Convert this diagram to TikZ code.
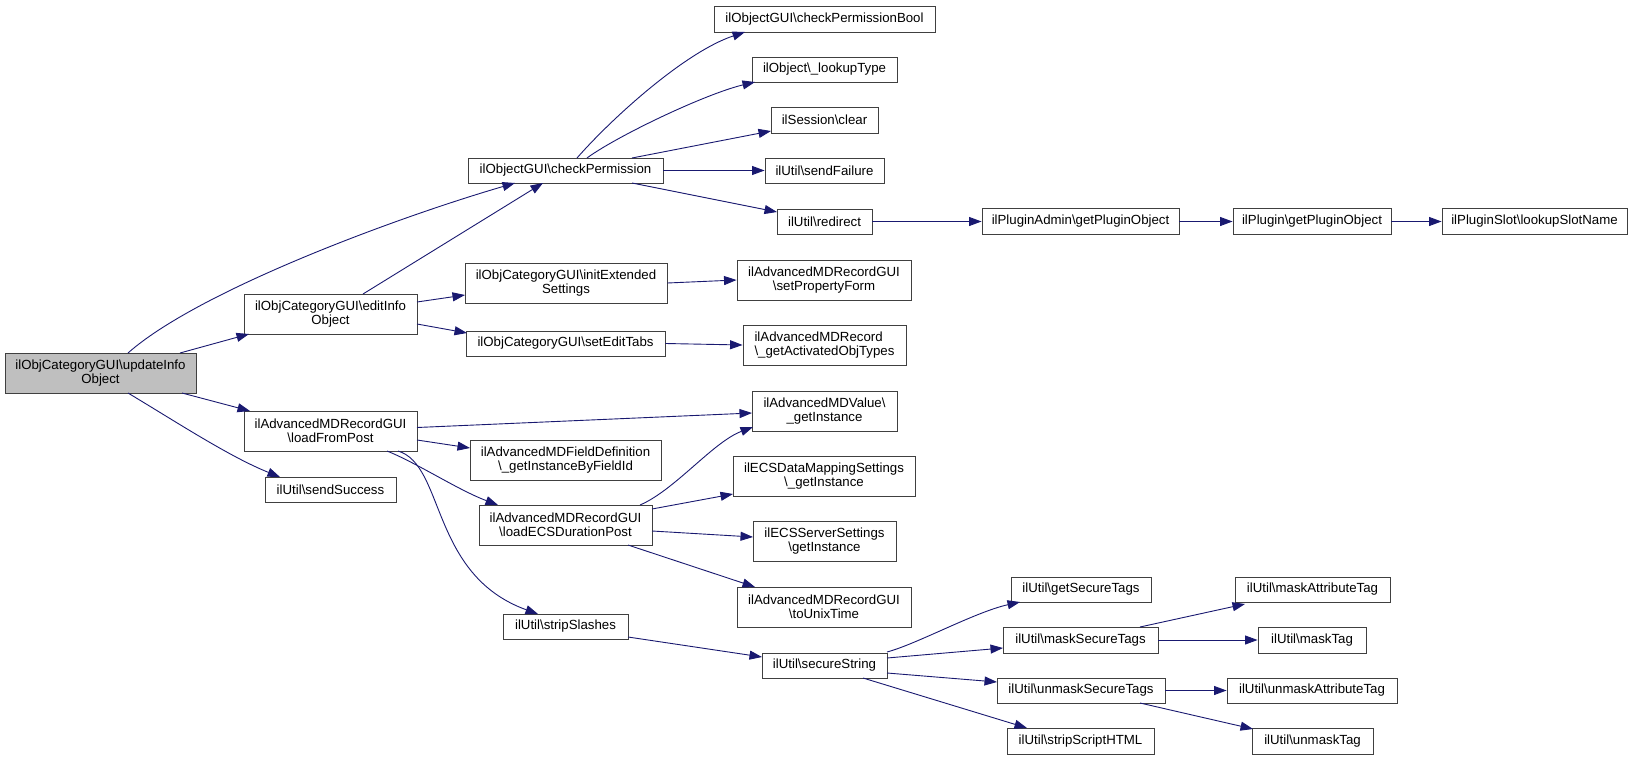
\documentclass[tikz,border=0pt]{standalone}
\usepackage{fontspec}
\setmainfont{Liberation Sans}
\usetikzlibrary{arrows.meta,calc}
\definecolor{edgeblue}{HTML}{191970}
\definecolor{rootfill}{HTML}{BFBFBF}
\definecolor{boxline}{HTML}{404040}
\newcommand{\bs}{\textbackslash}
\begin{document}
\begin{tikzpicture}[x=1pt,y=-1pt,
  box/.style={draw=boxline, line width=0.9pt, fill=white, rectangle, inner sep=0pt,
    align=center, font=\fontsize{13.25}{14.2}\selectfont},
  rootbox/.style={box, fill=rootfill},
  e/.style={draw=edgeblue, line width=0.9pt, -{Triangle[length=12.5pt,width=9pt]}},
]
\useasboundingbox (0,0) rectangle (1637,760);

% column 0
\node[rootbox, minimum width=191pt, minimum height=40pt] (root) at (100.5,373) {ilObjCategoryGUI\bs updateInfo\\Object};
% column 1
\node[box, minimum width=173pt, minimum height=40pt] (edit) at (330.5,314) {ilObjCategoryGUI\bs editInfo\\Object};
\node[box, minimum width=173pt, minimum height=40pt] (lfp) at (330.5,431) {ilAdvancedMDRecordGUI\\\bs loadFromPost};
\node[box, minimum width=131pt, minimum height=25pt] (ss) at (330.5,489.5) {ilUtil\bs sendSuccess};
% column 2
\node[box, minimum width=195pt, minimum height=25pt] (cp) at (565.5,170.5) {ilObjectGUI\bs checkPermission};
\node[box, minimum width=202pt, minimum height=40pt] (ies) at (566,283) {ilObjCategoryGUI\bs initExtended\\Settings};
\node[box, minimum width=199pt, minimum height=25pt] (set) at (565.5,343.5) {ilObjCategoryGUI\bs setEditTabs};
\node[box, minimum width=191pt, minimum height=40pt] (fd) at (565.5,460) {ilAdvancedMDFieldDefinition\\\bs\_getInstanceByFieldId};
\node[box, minimum width=173pt, minimum height=40pt] (ecs) at (565.5,525) {ilAdvancedMDRecordGUI\\\bs loadECSDurationPost};
\node[box, minimum width=125pt, minimum height=25pt] (strip) at (565.5,626.5) {ilUtil\bs stripSlashes};
% column 3
\node[box, minimum width=221pt, minimum height=26pt] (cpb) at (824.5,19) {ilObjectGUI\bs checkPermissionBool};
\node[box, minimum width=145pt, minimum height=25pt] (lt) at (824.5,69.5) {ilObject\bs\_lookupType};
\node[box, minimum width=107pt, minimum height=26pt] (clr) at (824.5,120) {ilSession\bs clear};
\node[box, minimum width=119pt, minimum height=25pt] (sf) at (824.5,170.5) {ilUtil\bs sendFailure};
\node[box, minimum width=95pt, minimum height=25pt] (red) at (824.5,221.5) {ilUtil\bs redirect};
\node[box, minimum width=174pt, minimum height=40pt] (spf) at (824,280) {ilAdvancedMDRecordGUI\\\bs setPropertyForm};
\node[box, align=left, minimum width=163pt, minimum height=40pt] (gat) at (824.5,345) {ilAdvancedMDRecord\\\bs\_getActivatedObjTypes};
\node[box, minimum width=145pt, minimum height=40pt] (mdv) at (824.5,411) {ilAdvancedMDValue\bs\\\_getInstance};
\node[box, minimum width=182pt, minimum height=40pt] (ecsd) at (824,476) {ilECSDataMappingSettings\\\bs\_getInstance};
\node[box, minimum width=143pt, minimum height=40pt] (ecss) at (824.5,541) {ilECSServerSettings\\\bs getInstance};
\node[box, minimum width=174pt, minimum height=40pt] (unix) at (824,607) {ilAdvancedMDRecordGUI\\\bs toUnixTime};
\node[box, minimum width=125pt, minimum height=25pt] (sec) at (824.5,665.5) {ilUtil\bs secureString};
% column 4
\node[box, minimum width=197pt, minimum height=26pt] (pa) at (1080.5,221.5) {ilPluginAdmin\bs getPluginObject};
\node[box, minimum width=140pt, minimum height=25pt] (gst) at (1081,589.5) {ilUtil\bs getSecureTags};
\node[box, minimum width=155pt, minimum height=26pt] (mst) at (1080.5,640) {ilUtil\bs maskSecureTags};
\node[box, minimum width=168pt, minimum height=25pt] (ust) at (1081,690.5) {ilUtil\bs unmaskSecureTags};
\node[box, minimum width=147pt, minimum height=26pt] (ssh) at (1080.5,741) {ilUtil\bs stripScriptHTML};
% column 5
\node[box, minimum width=158pt, minimum height=26pt] (pl) at (1312,221.5) {ilPlugin\bs getPluginObject};
\node[box, minimum width=155pt, minimum height=25pt] (mat) at (1312.5,589.5) {ilUtil\bs maskAttributeTag};
\node[box, minimum width=108pt, minimum height=26pt] (mt) at (1312,640) {ilUtil\bs maskTag};
\node[box, minimum width=170pt, minimum height=25pt] (uat) at (1312,690.5) {ilUtil\bs unmaskAttributeTag};
\node[box, minimum width=121pt, minimum height=26pt] (ut) at (1312.5,741) {ilUtil\bs unmaskTag};
% column 6
\node[box, minimum width=185pt, minimum height=26pt] (pls) at (1534.5,221.5) {ilPluginSlot\bs lookupSlotName};

% edges from root
\draw[e] ($(root)+(27.5,-20)$) .. controls +(70,-62) and +(-120,35) .. ($(cp)+(-50.5,12.5)$);
\draw[e] ($(root)+(79.5,-20)$) -- ($(edit)+(-81.5,20)$);
\draw[e] ($(root)+(81.5,20)$) -- ($(lfp)+(-80.5,-20)$);
\draw[e] ($(root)+(27.5,20)$) .. controls +(50,30) and +(-50,-20) .. ($(ss)+(-50.5,-12.5)$);
% editInfo
\draw[e] ($(edit)+(32.5,-20)$) -- ($(cp)+(-22.5,12.5)$);
\draw[e] ($(edit)+(86.5,-12)$) -- ($(ies)+(-101,12)$);
\draw[e] ($(edit)+(86.5,10)$) -- ($(set)+(-98.5,-10.5)$);
% loadFromPost
\draw[e] ($(lfp)+(86.5,-3.5)$) -- ($(mdv)+(-72.5,2)$);
\draw[e] ($(lfp)+(86.5,9)$) -- ($(fd)+(-95.5,-12)$);
\draw[e] ($(lfp)+(56.5,20)$) .. controls +(30,12) and +(-40,-15) .. ($(ecs)+(-67.5,-20)$);
\draw[e] ($(lfp)+(67.5,20)$) .. controls +(47,14) and +(-108,-39) .. ($(strip)+(-27.5,-12.5)$);
% checkPermission
\draw[e] ($(cp)+(11.5,-12.5)$) .. controls +(35,-40) and +(-60,20) .. ($(cpb)+(-79.5,13)$);
\draw[e] ($(cp)+(21.5,-12.5)$) .. controls +(30,-22) and +(-50,12) .. ($(lt)+(-69.5,12.5)$);
\draw[e] ($(cp)+(66.5,-12.5)$) -- ($(clr)+(-53.5,11)$);
\draw[e] (cp.east) -- (sf.west);
\draw[e] ($(cp)+(66.5,12.5)$) -- ($(red)+(-47.5,-9.5)$);
\draw[e] (red.east) -- (pa.west);
\draw[e] (pa.east) -- (pl.west);
\draw[e] (pl.east) -- (pls.west);
% initExtended / setEditTabs
\draw[e] (ies.east) -- (spf.west);
\draw[e] (set.east) -- (gat.west);
% loadECSDurationPost
\draw[e] ($(ecs)+(74.5,-20)$) .. controls +(35,-15) and +(-40,15) .. ($(mdv)+(-71.5,16)$);
\draw[e] ($(ecs)+(86.5,-16)$) -- ($(ecsd)+(-91,18)$);
\draw[e] ($(ecs)+(86.5,6)$) -- ($(ecss)+(-71.5,-4)$);
\draw[e] ($(ecs)+(62.5,20)$) -- ($(unix)+(-69,-20)$);
% stripSlashes / secureString
\draw[e] ($(strip)+(62.5,10.5)$) -- ($(sec)+(-62.5,-8.5)$);
\draw[e] ($(sec)+(62.5,-13.5)$) .. controls +(30,-8) and +(-45,10) .. ($(gst)+(-61,12.5)$);
\draw[e] ($(sec)+(62.5,-7.5)$) -- ($(mst)+(-77.5,8)$);
\draw[e] ($(sec)+(62.5,7.5)$) -- ($(ust)+(-84,-8.5)$);
\draw[e] ($(sec)+(38.5,12.5)$) -- ($(ssh)+(-53.5,-13)$);
% mask / unmask
\draw[e] ($(mst)+(59.5,-13)$) -- ($(mat)+(-67.5,14.5)$);
\draw[e] (mst.east) -- (mt.west);
\draw[e] (ust.east) -- (uat.west);
\draw[e] ($(ust)+(59,12.5)$) -- ($(ut)+(-59.5,-12)$);
\end{tikzpicture}
\end{document}
